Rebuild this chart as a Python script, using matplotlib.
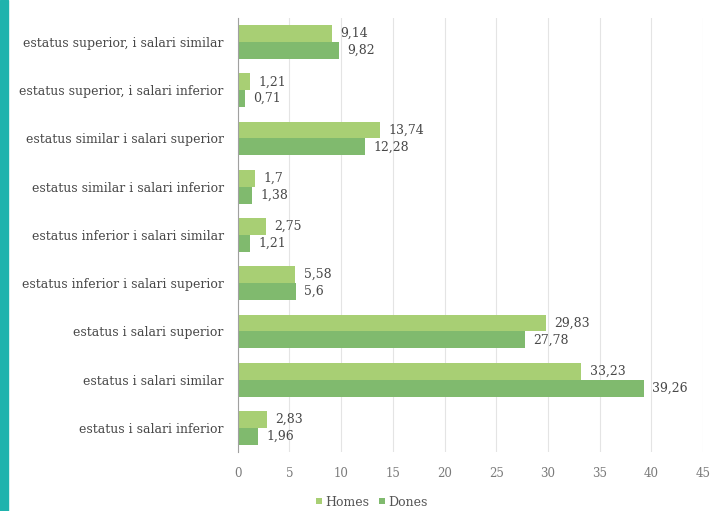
import numpy as np
import matplotlib.pyplot as plt
from matplotlib.patches import Rectangle

categories = [
    "estatus superior, i salari similar",
    "estatus superior, i salari inferior",
    "estatus similar i salari superior",
    "estatus similar i salari inferior",
    "estatus inferior i salari similar",
    "estatus inferior i salari superior",
    "estatus i salari superior",
    "estatus i salari similar",
    "estatus i salari inferior",
]
homes = [9.14, 1.21, 13.74, 1.7, 2.75, 5.58, 29.83, 33.23, 2.83]
dones = [9.82, 0.71, 12.28, 1.38, 1.21, 5.6, 27.78, 39.26, 1.96]

plt.rcParams['font.family'] = ['DejaVu Serif']

fig = plt.figure(figsize=(7.16, 5.11), dpi=100)
fig.patch.set_facecolor('white')
fig.patches.append(Rectangle((0, 0), 8 / 716, 1, transform=fig.transFigure,
                             color='#1fb3ad', zorder=0))

ax = fig.add_axes([0.332, 0.1155, 0.650, 0.8495])
y = np.arange(len(categories))
h = 0.35
col_h = '#a8cf74'
col_d = '#80ba6e'
b1 = ax.barh(y - h / 2, homes, height=h, color=col_h, label='Homes', zorder=2)
b2 = ax.barh(y + h / 2, dones, height=h, color=col_d, label='Dones', zorder=2)

txt = '#484848'
fs = 9
for bars, vals in ((b1, homes), (b2, dones)):
    for r, v in zip(bars, vals):
        ax.annotate(('%g' % v).replace('.', ','),
                    (r.get_width(), r.get_y() + r.get_height() / 2),
                    xytext=(6, 0), textcoords='offset points',
                    va='center', ha='left', fontsize=fs, color=txt)

ax.set_ylim(len(categories) - 0.5, -0.5)
ax.set_xlim(0, 45)
ax.set_xticks(range(0, 46, 5))
ax.set_yticks(y)
ax.set_yticklabels(categories, fontsize=fs, color=txt)
ax.tick_params(axis='x', colors='#7a7a7a', labelsize=8.5, length=0, pad=11)
ax.tick_params(axis='y', length=0, pad=10)
ax.grid(axis='x', color='#e4e4e4', linewidth=0.8, zorder=0)
for s in ('top', 'right', 'bottom'):
    ax.spines[s].set_visible(False)
ax.spines['left'].set_color('#a0a0a0')
ax.spines['left'].set_zorder(3)

ax.legend(loc='center', bbox_to_anchor=(372 / 716, 9 / 511), bbox_transform=fig.transFigure,
          ncol=2, frameon=False, fontsize=9, handlelength=0.45, handleheight=0.45,
          handletextpad=0.3, columnspacing=0.8, labelcolor='#555555')

fig.savefig('out.png', dpi=100)
